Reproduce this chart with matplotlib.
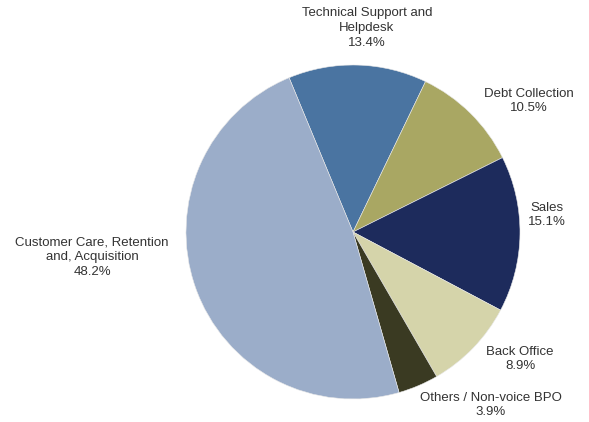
import matplotlib.pyplot as plt

plt.rcParams['font.family'] = ['Liberation Sans', 'DejaVu Sans']

# Data
labels = ['Technical Support and\nHelpdesk', 'Debt Collection', 'Sales',
          'Back Office', 'Others / Non-voice BPO',
          'Customer Care, Retention\nand, Acquisition']
shares = [13.4, 10.5, 15.1, 8.9, 3.9, 48.2]
colors = ['#4a74a1', '#a9a763', '#1d2b5c', '#d5d4aa', '#3a3a22', '#9badc9']

# label anchor points in pixel coords (x, y from top)
label_pos = [(367, 28), (529, 101), (547, 215), (520, 359), (491, 405), (92, 257)]

W, H = 589, 422
fig = plt.figure(figsize=(W / 100, H / 100), dpi=100)
ax = fig.add_axes([0, 0, 1, 1])

wedges, _ = ax.pie(shares, colors=colors, startangle=112.5, counterclock=False,
                   center=(353, H - 232), radius=167,
                   wedgeprops=dict(edgecolor='#e8e8e8', linewidth=0.4))

for lab, val, (x, y) in zip(labels, shares, label_pos):
    ax.text(x, H - y, f'{lab}\n{val}%', ha='center', va='center',
            fontsize=9.5, color='#333333', linespacing=1.3)

ax.set_xlim(0, W)
ax.set_ylim(0, H)
ax.set_aspect('equal')
ax.axis('off')

fig.savefig('out.png', dpi=100, facecolor='white')
